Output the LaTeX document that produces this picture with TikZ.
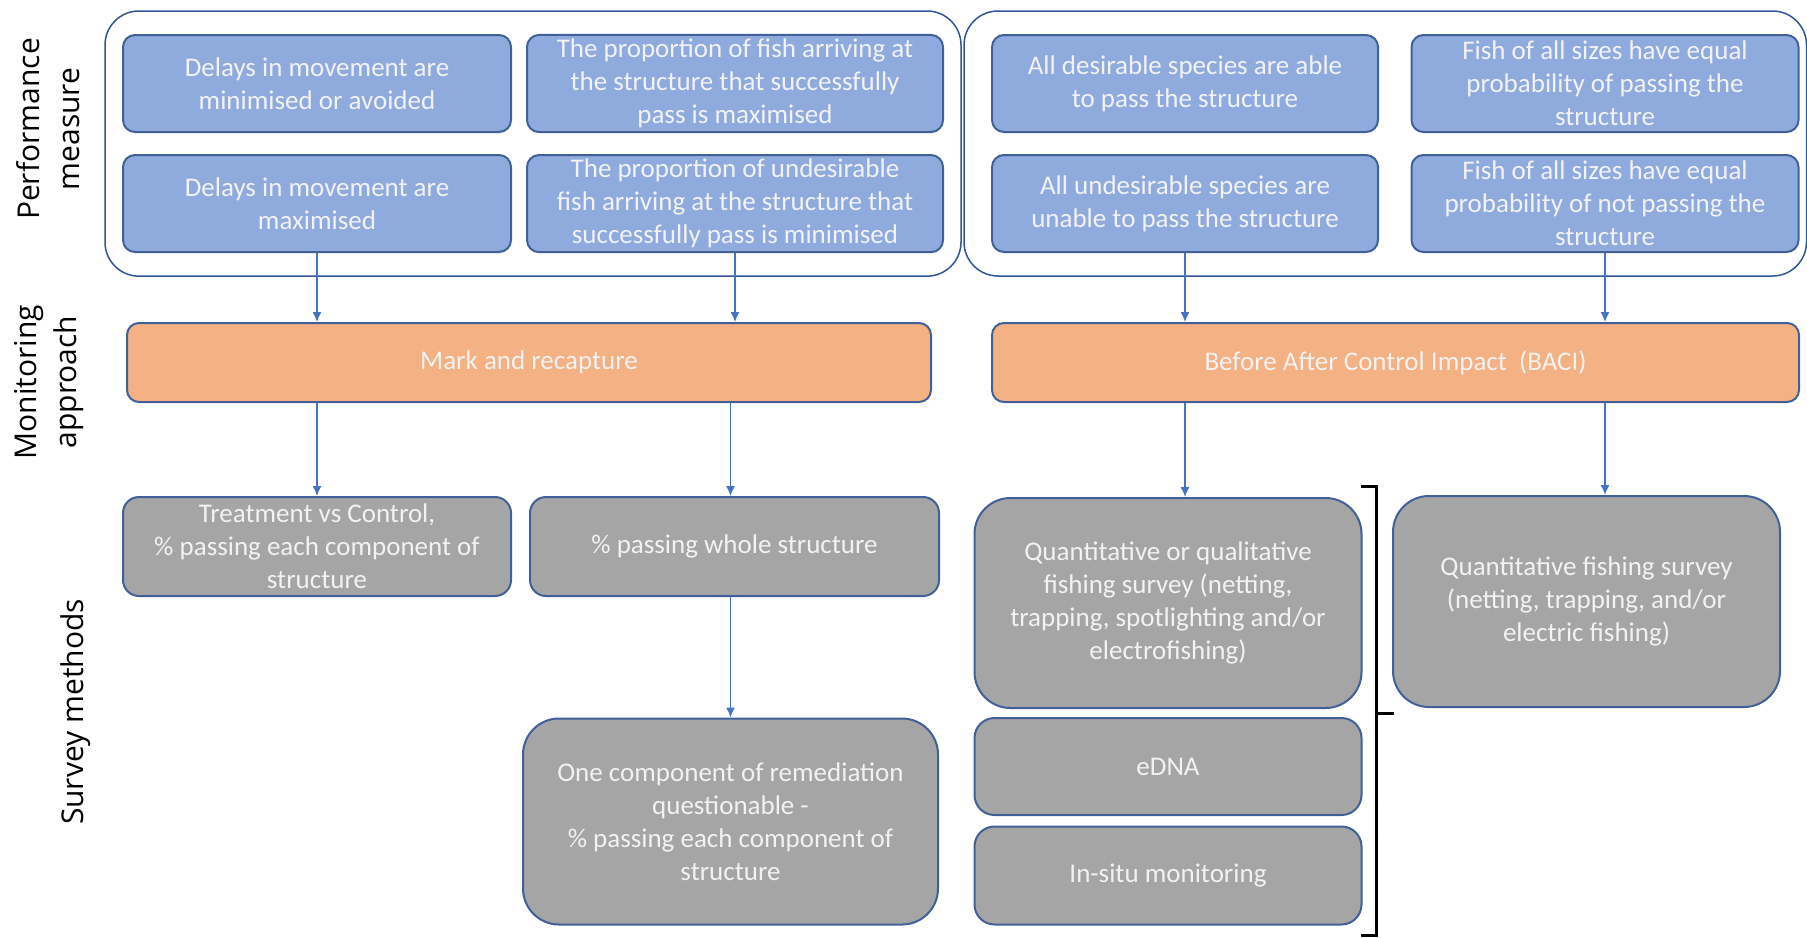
\documentclass[tikz,border=0pt]{standalone}
\usepackage{fontspec}
\setmainfont{Carlito}
\newfontfamily\sidefont{Open Sans}
\usetikzlibrary{arrows.meta,positioning,fit}
\definecolor{perfblue}{HTML}{8FAADC}
\definecolor{approachorange}{HTML}{F4B183}
\definecolor{surveygrey}{HTML}{A5A5A5}
\definecolor{edgeblue}{HTML}{41609A}
\definecolor{groupblue}{HTML}{2F5597}
\definecolor{arrowblue}{HTML}{4472C4}
\tikzset{
  boxtext/.style={font=\fontsize{13.5}{16.5}\selectfont,text=white!95!black,align=center,inner sep=2pt},
  perfnode/.style={boxtext,draw=edgeblue,line width=1pt,rounded corners=6pt,fill=perfblue,minimum height=48.5pt},
  approachnode/.style={boxtext,draw=edgeblue,line width=1pt,rounded corners=6pt,fill=approachorange,minimum height=39.5pt},
  surveynode/.style={boxtext,draw=edgeblue,line width=1pt,rounded corners=8pt,fill=surveygrey},
  bigsurveynode/.style={surveynode,rounded corners=18pt},
  groupnode/.style={draw=groupblue,line width=0.75pt,rounded corners=17pt,inner xsep=8.5pt,inner ysep=11.5pt},
  sidenode/.style={font=\sidefont\fontsize{15}{20}\selectfont,align=center,rotate=90,text=black},
  flowarrow/.style={-{Latex[length=5pt,width=4.5pt]},line width=0.7pt,arrowblue},
  bracket/.style={line width=1.5pt,black}
}

\begin{document}
\begin{tikzpicture}[x=0.5pt,y=-0.5pt,node distance=10.5pt]
  \useasboundingbox (0,0) rectangle (1807,937);

  % Side labels
  \node[sidenode] (perflabel) at (48,129) {Performance\\measure};
  \node[sidenode] (monlabel) at (49,382) {Monitoring\\approach};
  \node[sidenode] (surveylabel) at (76,712) {Survey methods};

  % Performance measures
  \node[perfnode,minimum width=194pt] (delaymin) at (317,83.5) {Delays in movement are\\minimised or avoided};
  \node[perfnode,minimum width=208pt] (propmax) at (735,83.5) {The proportion of fish arriving at\\the structure that successfully\\pass is maximised};
  \node[perfnode,minimum width=194pt,below=of delaymin] (delaymax) {Delays in movement are\\maximised};
  \node[perfnode,minimum width=208pt,below=of propmax] (undesmin) {The proportion of undesirable\\fish arriving at the structure that\\successfully pass is minimised};

  \node[perfnode,minimum width=193pt] (desable) at (1185,83.5) {All desirable species are able\\to pass the structure};
  \node[perfnode,minimum width=193.5pt] (sizepass) at (1605,83.5) {Fish of all sizes have equal\\probability of passing the\\structure};
  \node[perfnode,minimum width=193pt,below=of desable] (undesunable) {All undesirable species are\\unable to pass the structure};
  \node[perfnode,minimum width=193.5pt,below=of sizepass] (sizenot) {Fish of all sizes have equal\\probability of not passing the\\structure};

  \node[groupnode,fit=(delaymin)(undesmin)] (leftgroup) {};
  \node[groupnode,fit=(desable)(sizenot),xshift=-5pt] (rightgroup) {};

  % Monitoring approach
  \node[approachnode,minimum width=402pt] (markrecap) at (529,362.5) {Mark and recapture};
  \node[approachnode,minimum width=403.5pt] (baci) at (1395.5,362.5) {Before After Control Impact~~(BACI)};

  \draw[flowarrow] (delaymax.south) -- (delaymax.south |- markrecap.north);
  \draw[flowarrow] (undesmin.south) -- (undesmin.south |- markrecap.north);
  \draw[flowarrow] (undesunable.south) -- (undesunable.south |- baci.north);
  \draw[flowarrow] (sizenot.south) -- (sizenot.south |- baci.north);

  % Survey methods
  \node[surveynode,minimum width=194pt,minimum height=49.5pt] (treatctrl) at (317,546.5) {Treatment vs Control,\\\% passing each component of\\structure};
  \node[surveynode,minimum width=204.5pt,minimum height=49.5pt] (passwhole) at (734.5,546.5) {\% passing whole structure};
  \node[bigsurveynode,minimum width=207.5pt,minimum height=103pt] (onecomp) at (730.5,821.5) {One component of remediation\\questionable -\\\% passing each component of\\structure};
  \node[bigsurveynode,minimum width=193.5pt,minimum height=105pt] (quantqual) at (1168,603) {Quantitative or qualitative\\fishing survey (netting,\\trapping, spotlighting and/or\\electrofishing)};
  \node[surveynode,rounded corners=10pt,minimum width=193.5pt,minimum height=48.5pt] (edna) at (1168,766.5) {eDNA};
  \node[surveynode,rounded corners=10pt,minimum width=193.5pt,minimum height=49pt] (insitu) at (1168,875.5) {In-situ monitoring};
  \node[bigsurveynode,minimum width=193.5pt,minimum height=105.5pt] (quantfish) at (1586.5,601.5) {Quantitative fishing survey\\(netting, trapping, and/or\\electric fishing)};

  \draw[flowarrow] (delaymax.south |- markrecap.south) -- (delaymax.south |- treatctrl.north);
  \draw[flowarrow] (onecomp.north |- markrecap.south) -- (onecomp.north |- passwhole.north);
  \draw[flowarrow] (undesunable.south |- baci.south) -- (undesunable.south |- quantqual.north);
  \draw[flowarrow] (sizenot.south |- baci.south) -- (sizenot.south |- quantfish.north);
  \draw[flowarrow] (onecomp.north |- passwhole.south) -- (onecomp.north);

  % Bracket round the survey options
  \coordinate (bracetop) at (1361,486);
  \coordinate (bracebot) at (1361,935);
  \coordinate (bracemid) at (1394,713);
  \draw[bracket] (bracetop) -- ++(15,0) -- ++(0,449) -- (bracebot);
  \draw[bracket] (bracemid) -- ++(-18,0);
\end{tikzpicture}
\end{document}
